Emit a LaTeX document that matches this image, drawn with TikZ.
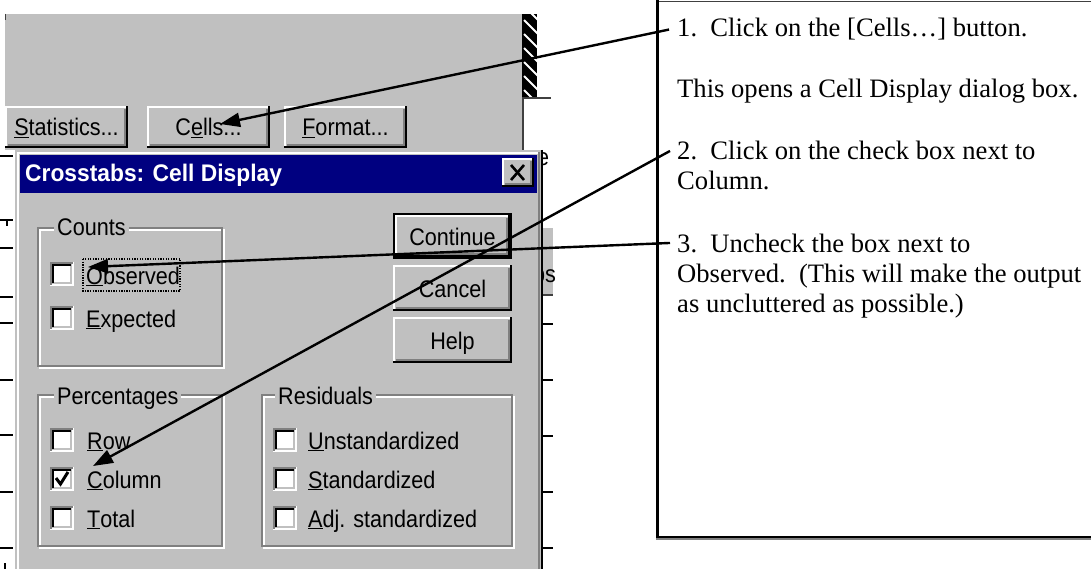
\documentclass[tikz,border=0pt]{standalone}
\usepackage{fontspec}
\setmainfont{Liberation Serif}
\newfontfamily\notefont{Liberation Serif}
\newfontfamily\uifont[FakeStretch=0.9]{Liberation Sans}
\newfontfamily\titlefont[FakeStretch=0.95]{Liberation Sans}
\usetikzlibrary{arrows.meta}

\definecolor{winface}{HTML}{C0C0C0}
\definecolor{winshadow}{HTML}{808080}
\definecolor{wintitle}{HTML}{000080}
\definecolor{dkline}{HTML}{404040}

\tikzset{
  ui/.style={font=\uifont\fontsize{24}{28}\selectfont, inner sep=0pt, anchor=base west, text=black},
  uic/.style={ui, anchor=base},
  grplabel/.style={ui, fill=winface, inner xsep=3pt, inner ysep=1pt},
  note/.style={font=\notefont\fontsize{26.6}{30}\selectfont, inner sep=0pt, anchor=base west},
  callout/.style={line width=2.4pt, -{Triangle[length=20pt,width=14pt]}},
}

% raised 3D button face: x1 y1 x2 y2
\newcommand\raisedface[4]{%
  \fill[winface] (#1,#2) rectangle (#3,#4);
  \draw[white, line width=2pt] (#1+1,#4-2) -- (#1+1,#2+1) -- (#3-2,#2+1);
  \draw[black, line width=2pt] (#1,#4-1) -- (#3-1,#4-1) -- (#3-1,#2);
  \draw[winshadow, line width=2pt] (#1+3,#4-3) -- (#3-3,#4-3) -- (#3-3,#2+3);
}
% sunken check box, top-left corner x y, 24 wide
\newcommand\sunkbox[2]{%
  \fill[white] (#1,#2) rectangle ++(24,24);
  \draw[white, line width=2pt] (#1,#2+23) -- (#1+23,#2+23) -- (#1+23,#2);
  \draw[winface, line width=2pt] (#1+2,#2+21) -- (#1+21,#2+21) -- (#1+21,#2+2);
  \draw[winshadow, line width=2pt] (#1+1,#2+23) -- (#1+1,#2+1) -- (#1+23,#2+1);
  \draw[black, line width=2pt] (#1+3,#2+21) -- (#1+3,#2+3) -- (#1+21,#2+3);
}
% etched group frame
\newcommand\etchframe[4]{%
  \draw[white, line width=2pt] (#1+2,#2+2) rectangle (#3+2,#4+2);
  \draw[winshadow, line width=2pt] (#1,#2) rectangle (#3,#4);
}

\begin{document}
\begin{tikzpicture}[x=1pt,y=-1pt]
\useasboundingbox (0,0) rectangle (1091,569);
\fill[white] (0,0) rectangle (1091,569);

% ---- window behind the dialog ----
\fill[winface] (5,14) rectangle (522,150);
\draw[dkline, line width=1pt] (5.5,14) -- (5.5,20);
\begin{scope}
  \clip (522,14) rectangle (537,98);
  \fill[black] (522,14) rectangle (537,98);
  \foreach \k in {0,...,7}
    \draw[white, line width=2pt] (524,6+\k*14) -- (539,21+\k*14);
\end{scope}
\draw[dkline, line width=2pt] (522,98) -- (551,98);
\draw[dkline, line width=2pt] (523,98) -- (523,150);

\raisedface{5}{106}{128}{148}
\raisedface{147}{106}{270}{148}
\raisedface{284}{106}{407}{148}
\node[uic] (bStat) at (66.5,136) {\underline{S}tatistics...};
\node[uic] (bCells) at (208.5,136) {C\underline{e}lls...};
\node[uic] (bFmt) at (345.5,136) {\underline{F}ormat...};

% grid lines of the table peeking out on the left
\foreach \yy in {156,220,248,297,323,380,435,492,548}
  \draw[black, line width=2pt] (0,\yy) -- (13,\yy);
\draw[black, line width=1.5pt] (7,220) -- (7,226);
\draw[black, line width=1.5pt] (5,563) -- (5,569);

% grid pieces peeking out on the right
\fill[winface] (541,226) rectangle (553,295);
\draw[white, line width=2pt] (541,227) -- (553,227);
\draw[dkline, line width=1.5pt] (541,295) -- (553,295);
\foreach \yy in {324,380,436,492,548}
  \draw[black, line width=2pt] (541,\yy) -- (553,\yy);
\begin{scope}
  \clip (542,150) rectangle (556,569);
  \node[ui] (fragE) at (537,166) {e};
  \node[ui] (fragP) at (533,282) {ps};
  \foreach \yy/\nm in {308/a,361/b,417/c,474/d,529/e}
    \node[ui] (frag\nm) at (531.5,\yy) {0};
\end{scope}

% ---- Cell Display dialog ----
\fill[winface] (15,150) rectangle (543,575);
\draw[white, line width=2pt] (18,575) -- (18,153) -- (540,153);
\draw[winshadow, line width=2pt] (539,152) -- (539,575);
\draw[black, line width=2pt] (542,150) -- (542,575);
\fill[wintitle] (20,155) rectangle (537,193);
\node[ui, text=white, font=\titlefont\bfseries\fontsize{24}{28}\selectfont] (ttl) at (25,182) {Crosstabs: Cell Display};
\raisedface{502}{158}{534}{187}
\draw[black, line width=2.6pt] (511,165) -- (524,180);
\draw[black, line width=2.6pt] (524,165) -- (511,180);

% Counts
\etchframe{38}{228}{222}{366}
\node[grplabel] (gCounts) at (54,236) {Counts};
\sunkbox{50}{262}
\sunkbox{50}{306}
\node[ui] (lObs) at (86,284) {\underline{O}bserved};
\draw[black, line width=1.3pt, dash pattern=on 1.3pt off 1.3pt] (83,259) rectangle (180,291);
\node[ui] (lExp) at (86,327) {\underline{E}xpected};

% Percentages
\etchframe{38}{395}{222}{546}
\node[grplabel] (gPct) at (54,404) {Percentages};
\sunkbox{50}{428}
\sunkbox{50}{467}
\sunkbox{50}{506}
\draw[black, line width=3pt] (56,478) -- (60.5,484) -- (68,472);
\node[ui] (lRow) at (87,449) {\underline{R}ow};
\node[ui] (lCol) at (87,488) {\underline{C}olumn};
\node[ui] (lTot) at (87,527) {\underline{T}otal};

% Residuals
\etchframe{262}{395}{512}{546}
\node[grplabel] (gRes) at (275,404) {Residuals};
\sunkbox{273}{428}
\sunkbox{273}{467}
\sunkbox{273}{506}
\node[ui] (lUns) at (308,449) {\underline{U}nstandardized};
\node[ui] (lStd) at (308,488) {\underline{S}tandardized};
\node[ui] (lAdj) at (308,527) {\underline{A}dj. standardized};

% command buttons
\raisedface{395}{215}{510}{257}
\draw[black, line width=2pt] (394,214) rectangle (511,258);
\raisedface{393}{265}{512}{311}
\raisedface{393}{317}{512}{363}
\node[uic] (bCont) at (452.5,245) {Continue};
\node[uic] (bCanc) at (452.5,297) {Cancel};
\node[uic] (bHelp) at (452.5,349) {Help};

% ---- instruction box ----
\draw[dkline, line width=1.5pt] (656,1.5) -- (1091,1.5);
\draw[winshadow, line width=2pt] (656,539) -- (1091,539);
\draw[black, line width=2pt] (656,537) -- (1091,537);
\draw[black, line width=3pt] (657,0) -- (657,538);

\node[note] (n1) at (677,37) {1.~~Click on the [Cells…] button.};
\node[note] (n1b) at (677,98) {This opens a Cell Display dialog box.};
\node[note] (n2) at (677,160) {2.~~Click on the check box next to};
\node[note] (n2b) at (677,190) {Column.};
\node[note] (n3) at (677,252) {3.~~Uncheck the box next to};
\node[note] (n3b) at (677,282) {Observed.~~(This will make the output};
\node[note] (n3c) at (677,312) {as uncluttered as possible.)};

% ---- callout arrows ----
\coordinate (tCells) at (220,124);
\coordinate (tCol) at (93,466);
\coordinate (tObs) at (88,267);
\draw[callout] ([xshift=-8pt]n1.west) -- (tCells);
\draw[callout] ([xshift=-7pt]n2.west) -- (tCol);
\draw[callout] ([xshift=-7pt]n3.west) -- (tObs);
\end{tikzpicture}
\end{document}
